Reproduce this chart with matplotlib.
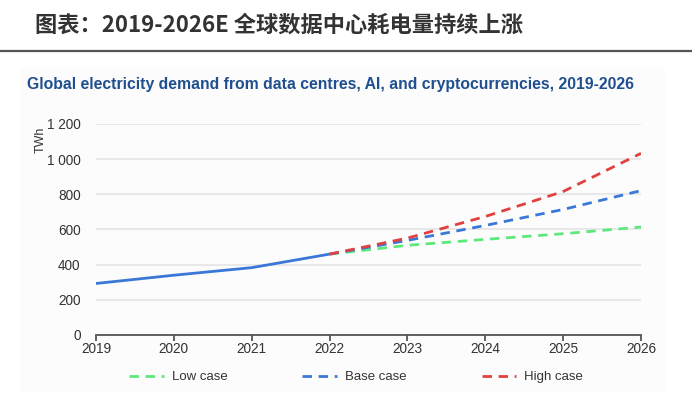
import matplotlib.pyplot as plt
from matplotlib.patches import Rectangle
from matplotlib.lines import Line2D
from matplotlib.ticker import FuncFormatter

# historical demand (TWh)
hist_years = [2019, 2020, 2021, 2022]
hist_values = [293, 340, 383, 460]

# scenario projections from 2022 onward (TWh)
proj_years = [2022, 2023, 2024, 2025, 2026]
low_case = [460, 510, 544, 576, 614]
base_case = [460, 538, 623, 714, 821]
high_case = [460, 551, 674, 816, 1033]

BLUE = "#3a78d8"
GREEN = "#5ee87c"
RED = "#e0403e"
TEXT = "#333333"

plt.rcParams["font.family"] = ["Liberation Sans", "DejaVu Sans"]

fig = plt.figure(figsize=(6.92, 3.96), dpi=100)

# title block and separator
fig.text(35 / 692, 1 - 25 / 396, "图表：2019-2026E 全球数据中心耗电量持续上涨",
         family=["Noto Sans CJK SC", "DejaVu Sans"], fontsize=16,
         fontweight="bold", color=TEXT, va="center", ha="left")
fig.add_artist(Line2D([0, 1], [1 - 51 / 396, 1 - 51 / 396], transform=fig.transFigure,
                      color="#555555", linewidth=1.6))

# faint panel behind chart
fig.add_artist(Rectangle((20 / 692, 4 / 396), 645 / 692, 325 / 396,
                         transform=fig.transFigure, facecolor="#fcfcfc",
                         edgecolor="none", zorder=-1))

fig.text(27 / 692, 1 - 84 / 396,
         "Global electricity demand from data centres, AI, and cryptocurrencies, 2019-2026",
         fontsize=11.3, fontweight="bold", color="#1f4f8f", va="center", ha="left")

ax = fig.add_axes([96 / 692, 1 - 335 / 396, 545 / 692, 211 / 396])
ax.set_facecolor("none")

dash = (3.4, 2.4)
lw = 2.0
ax.plot(hist_years, hist_values, color=BLUE, linewidth=lw, solid_capstyle="butt", zorder=3)
ax.plot(proj_years, low_case, color=GREEN, linewidth=lw, dashes=dash, label="Low case", zorder=3)
ax.plot(proj_years, base_case, color=BLUE, linewidth=lw, dashes=dash, label="Base case", zorder=4)
ax.plot(proj_years, high_case, color=RED, linewidth=lw, dashes=dash, label="High case", zorder=5)

ax.set_xlim(2019, 2026)
ax.set_ylim(0, 1200)
ax.set_xticks(range(2019, 2027))
ax.set_yticks(range(0, 1201, 200))
ax.yaxis.set_major_formatter(FuncFormatter(lambda v, _: f"{int(v):,}".replace(",", " ")))
ax.grid(axis="y", color="#e6e6e6", linewidth=1.3)
ax.set_axisbelow(True)

for side in ("top", "right", "left"):
    ax.spines[side].set_visible(False)
ax.spines["bottom"].set_color("#555555")
ax.spines["bottom"].set_linewidth(1.3)
ax.tick_params(axis="x", direction="out", length=4, width=1.3, color="#555555",
               labelsize=9.8, labelcolor=TEXT, pad=1)
ax.tick_params(axis="y", length=0, labelsize=9.8, labelcolor=TEXT, pad=11)
ax.set_ylabel("TWh", fontsize=9, color=TEXT)
ax.yaxis.set_label_coords(-0.09, 0.925)

ax.legend(loc="center", bbox_to_anchor=(0.477, -0.2), ncol=3, frameon=False,
          fontsize=9.5, labelcolor=TEXT, handlelength=2.6, columnspacing=5.7,
          handletextpad=0.6)

fig.savefig("out.png", dpi=100)
